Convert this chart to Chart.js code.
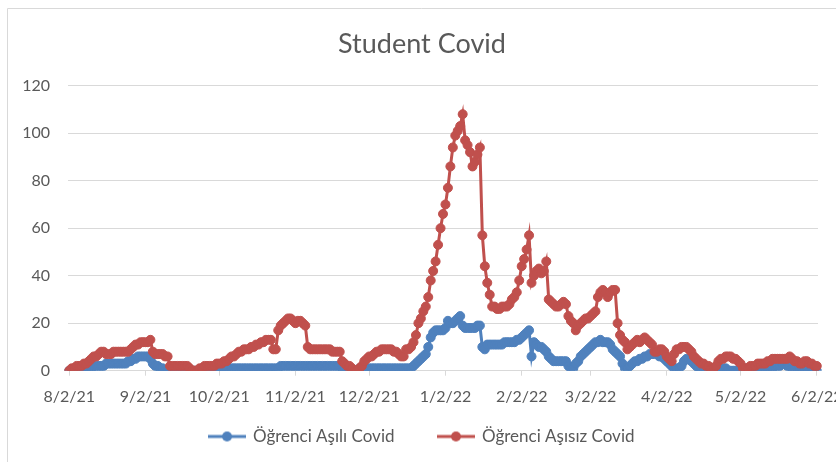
<!DOCTYPE html>
<html>
<head>
<meta charset="utf-8">
<script src="https://cdn.jsdelivr.net/npm/chart.js@4.4.1/dist/chart.umd.min.js"></script>
<style>
  body { margin: 0; background: #fff; }
  #wrap { width: 836px; height: 462px; }
</style>
</head>
<body>
<div id="wrap"><canvas id="myChart" width="836" height="462"></canvas></div>
<script>
// daily categories, 8/2/21 .. 6/2/22
const startDate = [2021, 7, 2];
const dayCount = 305;
const tickLabels = ['8/2/21', '9/2/21', '10/2/21', '11/2/21', '12/2/21', '1/2/22',
    '2/2/22', '3/2/22', '4/2/22', '5/2/22', '6/2/22'];

const asili = [
    0, 0, 0, 0, 0, 0, 1, 1, 1, 1,
    2, 2, 2, 2, 2, 3, 3, 3, 3, 3,
    3, 3, 3, 3, 4, 4, 5, 5, 6, 6,
    6, 6, 6, 5, 3, 2, 2, 1, 1, 0,
    0, 0, 0, 0, 0, 0, 0, 0, 0, 0,
    0, 0, 0, 0, 0, 0, 0, 0, 0, 0,
    0, 0, 0, 1, 1, 1, 1, 1, 1, 1,
    1, 1, 1, 1, 1, 1, 1, 1, 1, 1,
    1, 1, 1, 1, 1, 1, 2, 2, 2, 2,
    2, 2, 2, 2, 2, 2, 2, 2, 2, 2,
    2, 2, 2, 2, 2, 2, 2, 2, 2, 2,
    2, 1, 1, 0, 0, 0, 0, 0, 1, 1,
    1, 1, 1, 1, 1, 1, 1, 1, 1, 1,
    1, 1, 1, 1, 1, 1, 1, 1, 1, 1,
    2, 3, 4, 5, 6, 7, 10, 14, 16, 17,
    17, 17, 17, 18, 21, 20, 20, 21, 22, 23,
    19, 18, 18, 18, 18, 18, 19, 19, 10, 9,
    11, 11, 11, 11, 11, 11, 11, 12, 12, 12,
    12, 12, 13, 13, 14, 15, 16, 17, 6, 12,
    11, 10, 10, 9, 8, 6, 5, 4, 4, 4,
    4, 4, 4, 2, 1, 1, 3, 4, 6, 7,
    8, 9, 10, 11, 12, 12, 13, 12, 12, 12,
    11, 9, 8, 7, 6, 3, 1, 1, 2, 3,
    4, 4, 5, 5, 6, 6, 7, 7, 7, 7,
    6, 6, 5, 4, 3, 2, 1, 1, 1, 2,
    4, 5, 5, 4, 3, 2, 1, 0, 0, 0,
    0, 0, 0, 0, 0, 1, 1, 1, 0, 0,
    0, 0, 0, 1, 1, 1, 0, 0, 0, 1,
    1, 1, 1, 1, 1, 1, 1, 2, 2, 2,
    3, 3, 2, 2, 1, 1, 1, 1, 1, 1,
    1, 1, 1, 0, 0
];

const asisiz = [
    0, 1, 1, 2, 2, 2, 3, 3, 4, 5,
    6, 6, 7, 8, 8, 7, 7, 7, 8, 8,
    8, 8, 8, 8, 8, 9, 10, 11, 11, 12,
    12, 12, 12, 13, 8, 7, 7, 7, 7, 6,
    6, 2, 2, 2, 2, 2, 2, 2, 2, 1,
    0, 0, 0, 1, 1, 2, 2, 2, 2, 2,
    3, 3, 3, 4, 4, 5, 6, 6, 7, 8,
    8, 9, 9, 9, 10, 10, 11, 11, 12, 12,
    13, 13, 13, 9, 9, 17, 19, 20, 21, 22,
    22, 21, 20, 21, 21, 20, 19, 10, 9, 9,
    9, 9, 9, 9, 9, 9, 9, 8, 8, 8,
    8, 4, 3, 2, 2, 1, 0, 0, 1, 2,
    4, 5, 6, 6, 7, 8, 8, 9, 9, 9,
    9, 9, 8, 8, 7, 6, 6, 9, 9, 10,
    12, 15, 20, 22, 25, 27, 31, 38, 42, 46,
    53, 60, 66, 70, 77, 86, 94, 99, 101, 103,
    108, 97, 95, 92, 86, 88, 91, 94, 57, 44,
    37, 32, 27, 27, 26, 26, 27, 27, 27, 28,
    30, 31, 33, 38, 44, 47, 51, 57, 37, 40,
    42, 43, 41, 42, 46, 30, 29, 28, 27, 27,
    28, 29, 28, 23, 21, 20, 17, 19, 20, 21,
    22, 22, 23, 24, 25, 31, 33, 34, 33, 31,
    33, 34, 34, 20, 15, 13, 12, 9, 10, 11,
    12, 13, 12, 13, 14, 13, 12, 11, 8, 8,
    9, 9, 8, 6, 5, 4, 7, 9, 9, 10,
    10, 10, 9, 8, 6, 5, 4, 3, 3, 2,
    2, 1, 1, 2, 4, 5, 5, 6, 6, 6,
    5, 5, 4, 3, 1, 1, 1, 2, 2, 2,
    3, 3, 3, 3, 4, 4, 5, 5, 5, 5,
    5, 5, 5, 6, 5, 4, 4, 3, 3, 4,
    4, 3, 3, 2, 2
];

const labels = [];
for (let i = 0; i < dayCount; i++) {
    const d = new Date(Date.UTC(startDate[0], startDate[1], startDate[2] + i));
    labels.push((d.getUTCMonth() + 1) + '/' + d.getUTCDate() + '/' + String(d.getUTCFullYear()).slice(2));
}

const blue = '#4F81BD';
const red = '#C0504D';
const textGray = '#595959';
const gridGray = '#D9D9D9';

// line + marker swatch for the legend
function swatch(color) {
    const c = document.createElement('canvas');
    c.width = 38;
    c.height = 12;
    const g = c.getContext('2d');
    g.strokeStyle = color;
    g.lineWidth = 3;
    g.beginPath();
    g.moveTo(0, 6);
    g.lineTo(38, 6);
    g.stroke();
    g.fillStyle = color;
    g.beginPath();
    g.arc(19, 6, 5, 0, Math.PI * 2);
    g.fill();
    return c;
}

const frame = {
    id: 'frame',
    beforeDraw(chart) {
        const ctx = chart.ctx;
        ctx.save();
        ctx.strokeStyle = gridGray;
        ctx.lineWidth = 1;
        ctx.beginPath();
        ctx.moveTo(7.5, 462);
        ctx.lineTo(7.5, 8.5);
        ctx.lineTo(836, 8.5);
        ctx.stroke();
        ctx.restore();
    }
};

Chart.defaults.font.family = 'Lato, "Open Sans", sans-serif';
Chart.defaults.color = textGray;

const data = {
    labels: labels,
    datasets: [{
        label: 'Öğrenci Aşılı Covid',
        data: asili,
        borderColor: blue,
        backgroundColor: blue,
        borderWidth: 3,
        pointRadius: 4.5,
        pointBorderWidth: 1,
        pointBackgroundColor: blue,
        pointBorderColor: blue,
        tension: 0,
        order: 2,
    }, {
        label: 'Öğrenci Aşısız Covid',
        data: asisiz,
        borderColor: red,
        backgroundColor: red,
        borderWidth: 3,
        pointRadius: 4.5,
        pointBorderWidth: 1,
        pointBackgroundColor: red,
        pointBorderColor: red,
        tension: 0,
        order: 1,
    }],
};

const config = {
    type: 'line',
    data: data,
    plugins: [frame],
    options: {
        responsive: false,
        animation: false,
        layout: { padding: { left: 26, right: 18, top: 0, bottom: 7 } },
        scales: {
            x: {
                offset: true,
                grid: {
                    display: true,
                    drawOnChartArea: false,
                    drawTicks: true,
                    tickLength: 5,
                    color: (ctx) => tickLabels.includes(labels[ctx.index]) ? gridGray : 'rgba(0,0,0,0)',
                },
                border: { display: true, color: gridGray },
                ticks: {
                    autoSkip: false,
                    maxRotation: 0,
                    minRotation: 0,
                    padding: 12,
                    font: { size: 16 },
                    color: textGray,
                    callback: function (value, index) {
                        const l = labels[index];
                        return tickLabels.includes(l) ? l : '';
                    },
                },
                afterFit: (scale) => {
                    // legend sits right under the tick labels, so keep the axis box short
                    scale.height = 13.3;
                    scale.paddingLeft = 0;
                    scale.paddingRight = 0;
                    scale._computeLabelArea = () => null;
                },
            },
            y: {
                min: 0,
                max: 120,
                ticks: { stepSize: 20, padding: 18, font: { size: 16 }, color: textGray },
                grid: { color: gridGray, drawTicks: false },
                border: { display: false },
                afterFit: (scale) => {
                    scale.width = 42;
                    scale._computeLabelArea = () => null;
                },
            },
        },
        plugins: {
            title: {
                display: true,
                text: 'Student Covid',
                color: textGray,
                font: { size: 27, weight: 'normal' },
                padding: { top: 28.5, bottom: 24.8 },
            },
            legend: {
                position: 'bottom',
                labels: {
                    usePointStyle: true,
                    pointStyleWidth: 35,
                    padding: 44,
                    color: textGray,
                    font: { size: 17 },
                    generateLabels: (chart) => chart.data.datasets.map((ds, i) => ({
                        text: ds.label,
                        fontColor: textGray,
                        pointStyle: swatch(ds.borderColor),
                        datasetIndex: i,
                        hidden: false,
                        lineWidth: 0,
                    })),
                },
            },
            tooltip: { enabled: false },
        },
    },
};

const ctx = document.getElementById('myChart').getContext('2d');
const myChart = new Chart(ctx, config);
</script>
</body>
</html>
